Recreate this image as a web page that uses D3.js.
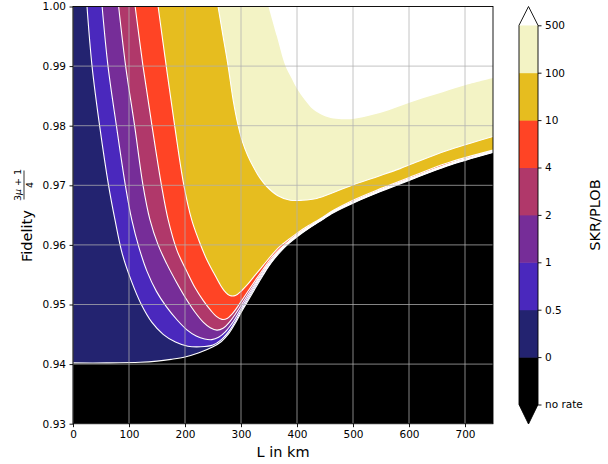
<!DOCTYPE html>
<html>
<head>
<meta charset="utf-8">
<script src="https://cdn.jsdelivr.net/npm/d3@7"></script>
<style>
  body { margin: 0; background: #fff; }
  text { font-family: "DejaVu Sans", sans-serif; fill: #000; }
</style>
</head>
<body>
<div id="chart"></div>
<script>
// colour levels of SKR/PLOB (bottom to top of the colorbar)
const levelLabels = ["no rate", "0", "0.5", "1", "2", "4", "10", "100", "500"];
const levelColors = ["#000000", "#232370", "#4a28bd", "#762d98", "#b0386a", "#ff4425", "#e6bd1f", "#f3f3c5"];
const overColor = "#ffffff";

// contour lines, as [L in km, fidelity]
const contour0 = [[0, 0.9402], [60, 0.9402], [120, 0.9403], [150, 0.9405], [175, 0.9408], [200, 0.9412], [225, 0.9419], [250, 0.9429], [265, 0.9438], [278, 0.9451], [290, 0.9469], [301, 0.9488], [313, 0.9507], [326, 0.9528], [340, 0.9550], [354, 0.9570], [369, 0.9587], [385, 0.9602], [402, 0.9615], [420, 0.9627], [440, 0.9639], [465, 0.9654], [500, 0.9670], [548, 0.9689], [608, 0.9711], [667, 0.9732], [750, 0.9755]];
const contour05 = [[25, 1.0], [34, 0.99], [47.5, 0.98], [63.5, 0.97], [75, 0.9642], [88, 0.9585], [104, 0.9540], [122, 0.9500], [141, 0.9470], [161, 0.9450], [183, 0.9437], [205, 0.9430], [228, 0.9429], [250, 0.9432], [265, 0.9441], [280, 0.9457], [290, 0.9472], [301, 0.9491], [313, 0.9510], [326, 0.9531], [340, 0.9552], [354, 0.9571], [369, 0.9589], [385, 0.9603], [402, 0.9616], [420, 0.9628], [440, 0.9640], [465, 0.9655], [500, 0.9671], [548, 0.9690], [608, 0.9712], [667, 0.9733], [750, 0.9756]];
const contour1 = [[52, 1.0], [62.5, 0.99], [77.5, 0.98], [93.5, 0.97], [105, 0.9642], [118, 0.9595], [132, 0.9556], [149, 0.9522], [167, 0.9496], [186, 0.9474], [204, 0.9457], [220, 0.9447], [235, 0.9442], [248, 0.9441], [260, 0.9445], [272, 0.9454], [283, 0.9467], [290, 0.9477], [301, 0.9495], [313, 0.9514], [326, 0.9534], [340, 0.9555], [354, 0.9573], [369, 0.9590], [385, 0.9604], [402, 0.9617], [420, 0.9628], [440, 0.9640], [465, 0.9655], [500, 0.9671], [548, 0.9690], [608, 0.9712], [667, 0.9733], [750, 0.9756]];
const contour2 = [[81.5, 1.0], [94, 0.99], [110, 0.98], [125, 0.97], [137.5, 0.9642], [152, 0.9600], [167, 0.9569], [185, 0.9537], [203, 0.9508], [218, 0.9487], [233, 0.9470], [245, 0.9461], [257, 0.9457], [268, 0.9460], [279, 0.9470], [290, 0.9484], [301, 0.9500], [313, 0.9518], [326, 0.9537], [340, 0.9557], [354, 0.9575], [369, 0.9591], [385, 0.9605], [402, 0.9618], [420, 0.9629], [440, 0.9641], [465, 0.9656], [500, 0.9672], [548, 0.9691], [608, 0.9713], [667, 0.9734], [750, 0.9757]];
const contour4 = [[111, 1.0], [125, 0.99], [141, 0.98], [158, 0.97], [170, 0.9642], [186, 0.9590], [203, 0.9556], [218, 0.9528], [233, 0.9506], [246, 0.9490], [256, 0.9480], [266, 0.9475], [276, 0.9477], [284, 0.9484], [290, 0.9491], [301, 0.9506], [313, 0.9523], [326, 0.9541], [340, 0.9560], [354, 0.9578], [369, 0.9593], [385, 0.9606], [402, 0.9619], [420, 0.9630], [440, 0.9642], [465, 0.9657], [500, 0.9673], [548, 0.9692], [608, 0.9714], [667, 0.9735], [750, 0.9758]];
const contour10 = [[152, 1.0], [166.5, 0.99], [181.5, 0.98], [198, 0.97], [212, 0.9642], [225, 0.9607], [239, 0.9575], [252, 0.9552], [263, 0.9533], [272, 0.9521], [280, 0.9515], [290, 0.9515], [301, 0.9523], [313, 0.9535], [326, 0.9550], [340, 0.9566], [354, 0.9582], [369, 0.9597], [385, 0.9609], [402, 0.9621], [420, 0.9632], [440, 0.9643], [465, 0.9658], [500, 0.9675], [548, 0.9694], [608, 0.9716], [667, 0.9737], [750, 0.9759]];
const contour100 = [[259, 1.0], [268, 0.995], [277, 0.99], [286, 0.9843], [295, 0.98], [303, 0.9772], [312, 0.9750], [322, 0.9731], [334, 0.9712], [346, 0.9698], [365, 0.9683], [388, 0.9675], [410, 0.9675], [435, 0.9678], [465, 0.9688], [495, 0.9699], [548, 0.9716], [584, 0.9728], [608, 0.9737], [667, 0.9758], [750, 0.9782]];
const contour500 = [[349, 1.0], [364, 0.995], [378.6, 0.9902], [390, 0.9880], [400, 0.9862], [414, 0.9843], [429, 0.9827], [447, 0.9817], [465, 0.9812], [495, 0.9811], [525, 0.9816], [554, 0.9823], [602, 0.9839], [650, 0.9853], [697, 0.9867], [750, 0.9880]];

const xTicks = [0, 100, 200, 300, 400, 500, 600, 700];
const yTicks = [0.93, 0.94, 0.95, 0.96, 0.97, 0.98, 0.99, 1.0];

const width = 608, height = 464;
const plotBox = { left: 73, right: 493, top: 6.5, bottom: 423.7 };
const cbBox = { left: 519, right: 538, top: 6.5, bottom: 424 };

const svg = d3.select("#chart").append("svg")
  .attr("width", width)
  .attr("height", height);

svg.append("rect").attr("width", width).attr("height", height).attr("fill", "#fff");

const x = d3.scaleLinear().domain([0, 750]).range([plotBox.left, plotBox.right]);
const y = d3.scaleLinear().domain([0.93, 1.0]).range([plotBox.bottom, plotBox.top]);

svg.append("clipPath").attr("id", "plot-clip")
  .append("rect")
  .attr("x", plotBox.left).attr("y", plotBox.top)
  .attr("width", plotBox.right - plotBox.left)
  .attr("height", plotBox.bottom - plotBox.top);

const plot = svg.append("g").attr("clip-path", "url(#plot-clip)");

// "no rate" everywhere below the 0 contour
plot.append("rect")
  .attr("x", plotBox.left).attr("y", plotBox.top)
  .attr("width", plotBox.right - plotBox.left)
  .attr("height", plotBox.bottom - plotBox.top)
  .attr("fill", levelColors[0]);

const contours = [contour0, contour05, contour1, contour2, contour4, contour10, contour100, contour500];
const fills = levelColors.slice(1).concat([overColor]);

const curve = d3.curveCatmullRom.alpha(0.5);

// each level is filled from its contour up to F = 1
const area = d3.area()
  .x(d => x(d[0]))
  .y0(y(1.0))
  .y1(d => y(d[1]))
  .curve(curve);

const line = d3.line()
  .x(d => x(d[0]))
  .y(d => y(d[1]))
  .curve(curve);

plot.selectAll(".band")
  .data(contours)
  .join("path")
  .attr("class", "band")
  .attr("d", area)
  .attr("fill", (d, i) => fills[i]);

plot.selectAll(".level")
  .data(contours.slice(0, 7))
  .join("path")
  .attr("class", "level")
  .attr("d", line)
  .attr("fill", "none")
  .attr("stroke", "#fff")
  .attr("stroke-width", 1.1);

// grid
const grid = svg.append("g")
  .attr("stroke", "#b0b0b0")
  .attr("stroke-opacity", 0.75)
  .attr("stroke-width", 1);

grid.selectAll(".vgrid")
  .data(xTicks)
  .join("line")
  .attr("x1", d => x(d)).attr("x2", d => x(d))
  .attr("y1", plotBox.top).attr("y2", plotBox.bottom);

grid.selectAll(".hgrid")
  .data(yTicks)
  .join("line")
  .attr("x1", plotBox.left).attr("x2", plotBox.right)
  .attr("y1", d => y(d)).attr("y2", d => y(d));

// frame
svg.append("rect")
  .attr("x", plotBox.left).attr("y", plotBox.top)
  .attr("width", plotBox.right - plotBox.left)
  .attr("height", plotBox.bottom - plotBox.top)
  .attr("fill", "none")
  .attr("stroke", "#000")
  .attr("stroke-width", 0.9);

// axes
const xAxisG = svg.append("g")
  .attr("transform", `translate(0,${plotBox.bottom})`)
  .call(d3.axisBottom(x).tickValues(xTicks).tickSize(3.5).tickPadding(3.5));

const yAxisG = svg.append("g")
  .attr("transform", `translate(${plotBox.left},0)`)
  .call(d3.axisLeft(y).tickValues(yTicks).tickSize(3.5).tickPadding(3.5).tickFormat(d3.format(".2f")));

[xAxisG, yAxisG].forEach(g => {
  g.select(".domain").remove();
  g.selectAll("text").style("font-size", "10.5px").style("font-family", "DejaVu Sans");
  g.selectAll("line").attr("stroke-width", 0.9);
});

svg.append("text")
  .attr("x", (plotBox.left + plotBox.right) / 2)
  .attr("y", 456.5)
  .attr("text-anchor", "middle")
  .style("font-size", "14.5px")
  .text("L in km");

// y label: Fidelity (3μ+1)/4
const yLabel = svg.append("g");
yLabel.append("text")
  .attr("transform", "translate(31.5,262) rotate(-90)")
  .style("font-size", "14.5px")
  .text("Fidelity");

const frac = yLabel.append("g").attr("transform", "translate(0,185) rotate(-90)");
const num = frac.append("text")
  .attr("x", 0).attr("y", 20.5)
  .attr("text-anchor", "middle")
  .style("font-size", "9.5px");
num.append("tspan").text("3");
num.append("tspan").style("font-style", "italic").text("μ");
num.append("tspan").text(" + 1");
frac.append("line")
  .attr("x1", -14.5).attr("x2", 14.5)
  .attr("y1", 24).attr("y2", 24)
  .attr("stroke", "#000").attr("stroke-width", 0.8);
frac.append("text")
  .attr("x", 0).attr("y", 33.3)
  .attr("text-anchor", "middle")
  .style("font-size", "9.5px")
  .text("4");

// colorbar
const cbY = d3.scalePoint().domain(levelLabels).range([404.5, 25.3]);
const cbMid = (cbBox.left + cbBox.right) / 2;
const cb = svg.append("g");

cb.selectAll(".seg")
  .data(levelColors)
  .join("rect")
  .attr("class", "seg")
  .attr("x", cbBox.left)
  .attr("width", cbBox.right - cbBox.left)
  .attr("y", (d, i) => cbY(levelLabels[i + 1]))
  .attr("height", (d, i) => cbY(levelLabels[i]) - cbY(levelLabels[i + 1]) + 0.5)
  .attr("fill", d => d);

const yTop = cbY(levelLabels[levelLabels.length - 1]);
const yBot = cbY(levelLabels[0]);

cb.append("path")
  .attr("d", `M${cbBox.left},${yTop}L${cbMid},${cbBox.top}L${cbBox.right},${yTop}Z`)
  .attr("fill", overColor);
cb.append("path")
  .attr("d", `M${cbBox.left},${yBot}L${cbMid},${cbBox.bottom}L${cbBox.right},${yBot}Z`)
  .attr("fill", levelColors[0]);

cb.append("path")
  .attr("d", `M${cbBox.left},${yTop}L${cbMid},${cbBox.top}L${cbBox.right},${yTop}` +
    `L${cbBox.right},${yBot}L${cbMid},${cbBox.bottom}L${cbBox.left},${yBot}Z`)
  .attr("fill", "none")
  .attr("stroke", "#000")
  .attr("stroke-width", 0.9);

const cbAxisG = cb.append("g")
  .attr("transform", `translate(${cbBox.right},0)`)
  .call(d3.axisRight(cbY).tickSize(3.5).tickPadding(3.5));
cbAxisG.select(".domain").remove();
cbAxisG.selectAll("text").style("font-size", "10.5px").style("font-family", "DejaVu Sans");
cbAxisG.selectAll("line").attr("stroke-width", 0.9);

svg.append("text")
  .attr("transform", "translate(600,215) rotate(-90)")
  .attr("text-anchor", "middle")
  .style("font-size", "14.5px")
  .text("SKR/PLOB");
</script>
</body>
</html>
